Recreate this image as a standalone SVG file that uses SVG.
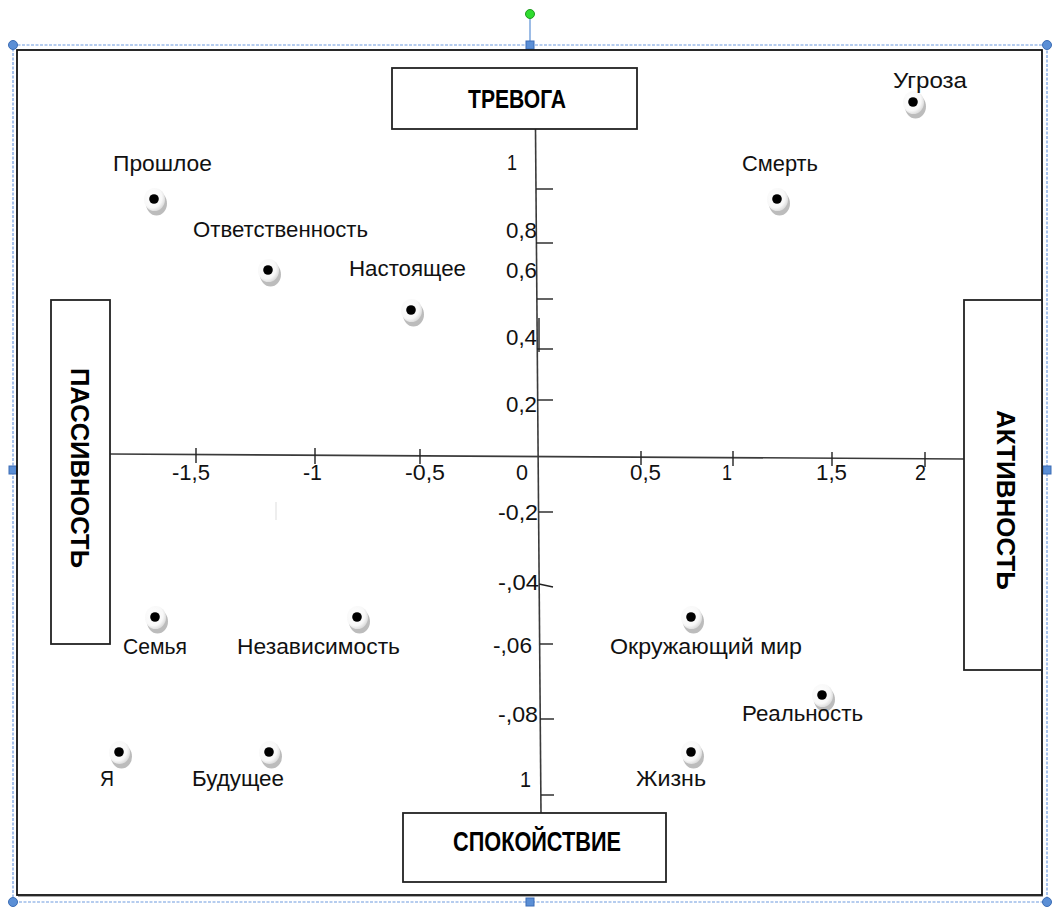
<svg xmlns="http://www.w3.org/2000/svg" xmlns:xlink="http://www.w3.org/1999/xlink" width="1053" height="907" viewBox="0 0 1053 907">
<style>
.box{fill:#fff;stroke:#222;stroke-width:1.8}
.title{font-family:"Liberation Sans",Arial,sans-serif;font-weight:bold;fill:#000}
.lbl{font-family:"Liberation Sans",Arial,sans-serif;font-size:22px;fill:#111}
.num{font-family:"Liberation Sans",Arial,sans-serif;font-size:22px;fill:#111}
.axis{stroke:#3a3a3a;stroke-width:1.6;fill:none}
.tick{stroke:#222;stroke-width:1.4}
.sel{fill:none;stroke:#6f9ce0;stroke-width:1.2;stroke-dasharray:3 1.5}
.h{fill:#5b8fd6;stroke:#3c6db5;stroke-width:1}
</style>
<defs>
<radialGradient id="gw" cx="0.4" cy="0.4" r="0.65">
<stop offset="0" stop-color="#ffffff"/>
<stop offset="0.7" stop-color="#f8f8f8"/>
<stop offset="1" stop-color="#d8d8d8"/>
</radialGradient>
<symbol id="dot" overflow="visible">
<ellipse cx="2.5" cy="4.5" rx="10.5" ry="12" fill="#bcbcbc"/>
<ellipse cx="0.5" cy="0.5" rx="10.5" ry="11.5" fill="url(#gw)"/>
<circle cx="0" cy="0" r="4.8" fill="#000"/>
</symbol>
</defs>
<rect width="1053" height="907" fill="#fff"/>
<g id="selection">
<rect x="13" y="45" width="1034" height="857" class="sel"/>
<line x1="530" y1="19" x2="530" y2="41" stroke="#5b8fd6" stroke-width="1.2"/>
<circle cx="530" cy="14" r="4.5" fill="#2fdc2f" stroke="#1f9a1f"/>
<circle cx="13" cy="45" r="4.5" class="h"/>
<circle cx="1047" cy="45" r="4.5" class="h"/>
<circle cx="13" cy="902" r="4.5" class="h"/>
<circle cx="1047" cy="902" r="4.5" class="h"/>
<rect x="526" y="41" width="8" height="8" class="h"/>
<rect x="526" y="898" width="8" height="8" class="h"/>
<rect x="9" y="466" width="8" height="8" class="h"/>
<rect x="1043" y="466" width="8" height="8" class="h"/>
</g>
<g id="frame">
<line x1="18" y1="896.5" x2="1043" y2="896.5" stroke="#aaa" stroke-width="1"/>
<rect x="17" y="50" width="1025" height="845" fill="none" stroke="#111" stroke-width="1.8"/>
</g>
<g id="connectors">
<line class="axis" x1="110" y1="454" x2="964" y2="459"/>
<line class="axis" x1="535.5" y1="129" x2="541" y2="813"/>
<g class="tick">
<line x1="536" y1="189" x2="553" y2="189"/>
<line x1="536" y1="243" x2="553" y2="243"/>
<line x1="537" y1="299" x2="553" y2="299"/>
<line x1="537" y1="349" x2="553" y2="349"/>
<line x1="539" y1="318" x2="539" y2="352"/>
<line x1="537" y1="400" x2="553" y2="400"/>
<line x1="539" y1="512" x2="553" y2="512"/>
<line x1="539" y1="584" x2="553" y2="587"/>
<line x1="540" y1="644" x2="553" y2="644"/>
<line x1="540" y1="719" x2="554" y2="719"/>
<line x1="541" y1="795" x2="554" y2="795"/>
<line x1="196" y1="448" x2="196" y2="463"/>
<line x1="315" y1="448" x2="315" y2="464"/>
<line x1="420" y1="449" x2="420" y2="464"/>
<line x1="641" y1="451" x2="641" y2="465"/>
<line x1="733" y1="451" x2="733" y2="466"/>
<line x1="832" y1="452" x2="832" y2="466"/>
<line x1="925" y1="452" x2="925" y2="467"/>
</g>
<line x1="276" y1="502" x2="276" y2="520" stroke="#ddd" stroke-width="1"/>
</g>
<g id="tick-labels" class="num">
<text x="507" y="170" textLength="10" lengthAdjust="spacingAndGlyphs">1</text>
<text x="506" y="238" textLength="31" lengthAdjust="spacingAndGlyphs">0,8</text>
<text x="506" y="278" textLength="31" lengthAdjust="spacingAndGlyphs">0,6</text>
<text x="506" y="345" textLength="31" lengthAdjust="spacingAndGlyphs">0,4</text>
<text x="506" y="412" textLength="31" lengthAdjust="spacingAndGlyphs">0,2</text>
<text x="498" y="520" textLength="40" lengthAdjust="spacingAndGlyphs">-0,2</text>
<text x="498" y="590" textLength="41" lengthAdjust="spacingAndGlyphs">-,04</text>
<text x="493" y="653" textLength="39" lengthAdjust="spacingAndGlyphs">-,06</text>
<text x="498" y="722" textLength="40" lengthAdjust="spacingAndGlyphs">-,08</text>
<text x="520" y="787" textLength="11" lengthAdjust="spacingAndGlyphs">1</text>
<text x="172" y="480" textLength="38" lengthAdjust="spacingAndGlyphs">-1,5</text>
<text x="303" y="480" textLength="19" lengthAdjust="spacingAndGlyphs">-1</text>
<text x="405" y="480" textLength="40" lengthAdjust="spacingAndGlyphs">-0,5</text>
<text x="516" y="480" textLength="12" lengthAdjust="spacingAndGlyphs">0</text>
<text x="630" y="480" textLength="31" lengthAdjust="spacingAndGlyphs">0,5</text>
<text x="722" y="480" textLength="10" lengthAdjust="spacingAndGlyphs">1</text>
<text x="816" y="480" textLength="31" lengthAdjust="spacingAndGlyphs">1,5</text>
<text x="915" y="480" textLength="11" lengthAdjust="spacingAndGlyphs">2</text>
</g>
<g id="node-trevoga">
<rect class="box" x="392" y="68" width="245" height="61"/>
<text class="title" x="468" y="108" font-size="26" textLength="98" lengthAdjust="spacingAndGlyphs">ТРЕВОГА</text>
</g>
<g id="node-spokoystvie">
<rect class="box" x="403" y="813" width="263" height="69"/>
<text class="title" x="453" y="851" font-size="27" textLength="168" lengthAdjust="spacingAndGlyphs">СПОКОЙСТВИЕ</text>
</g>
<g id="node-passivnost">
<rect class="box" x="51" y="300" width="59" height="344"/>
<text class="title" font-size="26" transform="translate(71,368) rotate(90)" textLength="200" lengthAdjust="spacingAndGlyphs">ПАССИВНОСТЬ</text>
</g>
<g id="node-aktivnost">
<rect class="box" x="964" y="300" width="78" height="370"/>
<text class="title" font-size="26" transform="translate(997,410) rotate(90)" textLength="180" lengthAdjust="spacingAndGlyphs">АКТИВНОСТЬ</text>
</g>
<g id="node-proshloe"><use href="#dot" x="154" y="199"/><text class="lbl" x="113" y="171" textLength="99" lengthAdjust="spacingAndGlyphs">Прошлое</text></g>
<g id="node-otvetstvennost"><use href="#dot" x="268" y="270"/><text class="lbl" x="193" y="237" textLength="175" lengthAdjust="spacingAndGlyphs">Ответственность</text></g>
<g id="node-nastoyashchee"><use href="#dot" x="411" y="310"/><text class="lbl" x="349" y="276" textLength="117" lengthAdjust="spacingAndGlyphs">Настоящее</text></g>
<g id="node-smert"><use href="#dot" x="777" y="199"/><text class="lbl" x="742" y="171" textLength="76" lengthAdjust="spacingAndGlyphs">Смерть</text></g>
<g id="node-ugroza"><use href="#dot" x="913" y="102"/><text class="lbl" x="893" y="88" textLength="74" lengthAdjust="spacingAndGlyphs">Угроза</text></g>
<g id="node-semya"><use href="#dot" x="155" y="617"/><text class="lbl" x="123" y="654" textLength="64" lengthAdjust="spacingAndGlyphs">Семья</text></g>
<g id="node-nezavisimost"><use href="#dot" x="357" y="617"/><text class="lbl" x="237" y="654" textLength="163" lengthAdjust="spacingAndGlyphs">Независимость</text></g>
<g id="node-okruzhayushchiy-mir"><use href="#dot" x="691" y="617"/><text class="lbl" x="610" y="654" textLength="192" lengthAdjust="spacingAndGlyphs">Окружающий мир</text></g>
<g id="node-realnost"><use href="#dot" x="822" y="695"/><text class="lbl" x="742" y="721" textLength="121" lengthAdjust="spacingAndGlyphs">Реальность</text></g>
<g id="node-ya"><use href="#dot" x="119" y="752"/><text class="lbl" x="100" y="786" textLength="14" lengthAdjust="spacingAndGlyphs">Я</text></g>
<g id="node-budushchee"><use href="#dot" x="269" y="752"/><text class="lbl" x="192" y="786" textLength="92" lengthAdjust="spacingAndGlyphs">Будущее</text></g>
<g id="node-zhizn"><use href="#dot" x="691" y="752"/><text class="lbl" x="636" y="786" textLength="70" lengthAdjust="spacingAndGlyphs">Жизнь</text></g>
</svg>
